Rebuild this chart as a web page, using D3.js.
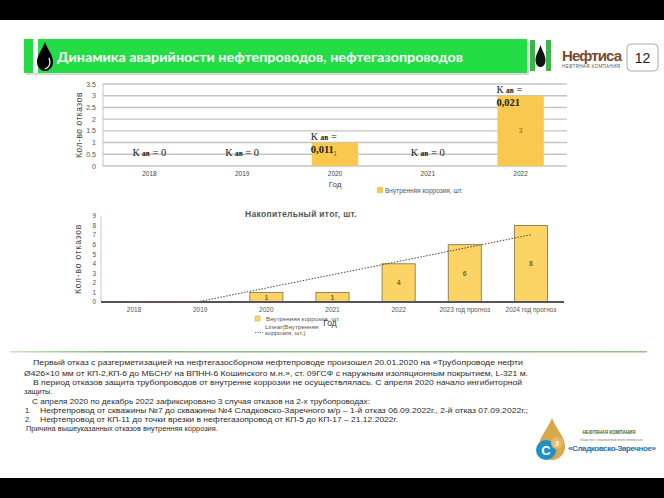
<!DOCTYPE html>
<html><head><meta charset="utf-8">
<script src="https://cdn.jsdelivr.net/npm/d3@7/dist/d3.min.js"></script>
<style>
html,body{margin:0;padding:0;background:#fff;}
svg{display:block;}
</style></head>
<body>
<svg id="c" width="664" height="498"></svg>
<script>
// ---------- DATA ----------
const years1 = ["2018","2019","2020","2021","2022"];
const values1 = [0, 0, 1, 0, 3];
const kavLine1 = ["К ав = 0", "К ав = 0", "К ав =", "К ав = 0", "К ав ="];
const kavLine2 = ["", "", "0,011", "", "0,021"];
const yTicks1 = [0, 0.5, 1, 1.5, 2, 2.5, 3, 3.5];

const years2 = ["2018","2019","2020","2021","2022","2023 год прогноз","2024 год прогноз"];
const values2 = [0, 0, 1, 1, 4, 6, 8];
const yTicks2 = [0,1,2,3,4,5,6,7,8,9];

const titleText = "Динамика аварийности нефтепроводов, нефтегазопроводов";
const pageNumber = "12";
const chart2Title = "Накопительный итог, шт.";
const legendText = "Внутренняя коррозия, шт.";
const yTitle = "Кол-во отказов";
const xTitle = "Год";

const paragraph = [
  {t:"Первый отказ с разгерметизацией на нефтегазосборном нефтепроводе произошел 20.01.2020 на «Трубопроводе нефти", x:33, w:490},
  {t:"Ø426×10 мм от КП-2,КП-6 до МБСНУ на ВПНН-6 Кошинского м.н.», ст. 09ГСФ с наружным изоляционным покрытием,  L-321 м.", x:24, w:504},
  {t:"В период отказов защита трубопроводов от внутренне коррозии не осуществлялась. С апреля 2020 начало ингибиторной", x:33, w:489},
  {t:"защиты.", x:24, w:0},
  {t:"С апреля 2020 по декабрь 2022 зафиксировано 3 случая отказов на 2-х трубопроводах:", x:32, w:338},
  {t:"Нефтепровод от скважины №7 до скважины №4 Сладковско-Заречного м/р – 1-й отказ 06.09.2022г., 2-й отказ 07.09.2022г.;", x:40, w:488, n:"1."},
  {t:"Нефтепровод от КП-11 до точки врезки в нефтегазопровод от КП-5 до КП-17 – 21.12.2022г.", x:40, w:358, n:"2."},
  {t:"Причина вышеуказанных отказов внутренняя коррозия.", x:26, w:0}
];

// ---------- DRAW ----------
const svg = d3.select("#c");
const sans = "'Liberation Sans', Arial, sans-serif";
const serif = "'Liberation Serif', 'Times New Roman', serif";

// black bands
svg.append("rect").attr("x",0).attr("y",0).attr("width",664).attr("height",20).attr("fill","#000");
svg.append("rect").attr("x",0).attr("y",478).attr("width",664).attr("height",20).attr("fill","#000");

// header bar
svg.append("rect").attr("x",26).attr("y",41).attr("width",503).attr("height",34).attr("fill","#d8d8d8");
svg.append("rect").attr("x",24).attr("y",39).attr("width",503).attr("height",34).attr("fill","#22dd44");
svg.append("rect").attr("x",33).attr("y",39).attr("width",5).attr("height",34).attr("fill","#fff");
function drop(g, cx, top, h, w){
  const p = d3.path();
  p.moveTo(cx, top);
  p.bezierCurveTo(cx + w*0.2, top + h*0.3, cx + w/2, top + h*0.45, cx + w/2, top + h*0.68);
  p.bezierCurveTo(cx + w/2, top + h*0.88, cx + w*0.25, top + h, cx, top + h);
  p.bezierCurveTo(cx - w*0.25, top + h, cx - w/2, top + h*0.88, cx - w/2, top + h*0.68);
  p.bezierCurveTo(cx - w/2, top + h*0.45, cx - w*0.2, top + h*0.3, cx, top);
  return g.append("path").attr("d", p.toString());
}
drop(svg, 45, 42, 29, 16).attr("fill","#000");
svg.append("path").attr("d","M49,58 Q52,66 45,69").attr("stroke","#fff").attr("stroke-width",1.2).attr("fill","none");
svg.append("text").attr("x",57).attr("y",62).attr("fill","#fff")
  .attr("font-family","Lato, 'Open Sans', sans-serif").attr("font-weight","bold").attr("font-size",13.5)
  .attr("textLength",406).attr("lengthAdjust","spacingAndGlyphs").text(titleText);

// right logo
svg.append("rect").attr("x",530).attr("y",40).attr("width",5).attr("height",31).attr("fill","#3cb54a");
svg.append("rect").attr("x",546).attr("y",40).attr("width",5).attr("height",31).attr("fill","#3cb54a");
drop(svg, 540.5, 45, 22, 10).attr("fill","#111");
svg.append("text").attr("x",562).attr("y",61).attr("fill","#7b4b2e")
  .attr("font-family",sans).attr("font-weight","bold").attr("font-size",15).attr("textLength",60).text("Нефтиса");
svg.append("text").attr("x",562).attr("y",67.5).attr("fill","#555")
  .attr("font-family",sans).attr("font-size",4.5).attr("textLength",58).text("НЕФТЯНАЯ КОМПАНИЯ");
svg.append("rect").attr("x",627).attr("y",44).attr("width",31).attr("height",27).attr("rx",4)
  .attr("fill","#fff").attr("stroke","#aaa").attr("stroke-width",1);
svg.append("text").attr("x",642.5).attr("y",63).attr("text-anchor","middle").attr("fill","#222")
  .attr("font-family",sans).attr("font-size",14).text(pageNumber);

// ---------- CHART 1 ----------
const x1 = d3.scaleBand().domain(years1).range([103, 567]).paddingInner(0.5).paddingOuter(0.25);
const y1 = d3.scaleLinear().domain([0, 3.5]).range([166, 84]);
const g1 = svg.append("g");
g1.selectAll("line.grid").data(yTicks1).enter().append("line")
  .attr("x1",103).attr("x2",567).attr("y1",d=>y1(d)).attr("y2",d=>y1(d))
  .attr("stroke","#c4c4c4").attr("stroke-width",1.4);
g1.append("line").attr("x1",103).attr("x2",103).attr("y1",84).attr("y2",166).attr("stroke","#c4c4c4").attr("stroke-width",1);
g1.selectAll("text.yt").data(yTicks1).enter().append("text")
  .attr("x",96).attr("y",d=>y1(d)+2.5).attr("text-anchor","end")
  .attr("font-family",sans).attr("font-size",7).attr("fill","#555").text(d=>String(d));
g1.selectAll("rect.bar").data(values1).enter().append("rect")
  .attr("x",(d,i)=>x1(years1[i])).attr("width",x1.bandwidth())
  .attr("y",d=>y1(d)).attr("height",d=>y1(0)-y1(d)).attr("fill","#f8c94e");
g1.selectAll("text.val").data(values1).enter().filter(d=>d>0).append("text")
  .attr("x",(d,i)=>x1(years1[values1.indexOf(d)])+x1.bandwidth()/2)
  .attr("y",d=>(y1(d)+y1(0))/2+2).attr("text-anchor","middle")
  .attr("font-family",sans).attr("font-size",6.5).attr("fill","#7a6630").text(d=>d);
g1.selectAll("text.xt").data(years1).enter().append("text")
  .attr("x",d=>x1(d)+x1.bandwidth()/2).attr("y",176).attr("text-anchor","middle")
  .attr("font-family",sans).attr("font-size",6.5).attr("fill","#444").text(d=>d);
g1.append("text").attr("x",x1("2020")+x1.bandwidth()/2).attr("y",186.5).attr("text-anchor","middle")
  .attr("font-family",sans).attr("font-size",8).attr("fill","#444").text(xTitle);
g1.append("text").attr("transform","translate(82,125) rotate(-90)").attr("text-anchor","middle")
  .attr("font-family",sans).attr("font-size",8.5).attr("fill","#444").attr("letter-spacing",0.5).text(yTitle);
// K annotations
years1.forEach((yr,i)=>{
  const two = kavLine2[i] !== "";
  const cx = x1(yr)+x1.bandwidth()/2;
  if(!two){
    const t = g1.append("text").attr("x",cx).attr("y",y1(0.5)+1.5).attr("text-anchor","middle")
      .attr("font-family",serif).attr("font-size",10.5).attr("fill","#222");
    const parts = kavLine1[i].split(" ");
    t.append("tspan").text(parts[0]+" ");
    t.append("tspan").attr("font-size",7.5).attr("font-weight","bold").text(parts[1]);
    t.append("tspan").text(" "+parts.slice(2).join(" "));
  } else {
    const x0 = x1(yr)-1;
    const top = y1(values1[i]);
    const t = g1.append("text").attr("x",x0).attr("y",top-3)
      .attr("font-family",serif).attr("font-size",10.5).attr("fill","#222");
    const parts = kavLine1[i].split(" ");
    t.append("tspan").text(parts[0]+" ");
    t.append("tspan").attr("font-size",7.5).attr("font-weight","bold").text(parts[1]);
    t.append("tspan").text(" "+parts.slice(2).join(" "));
    g1.append("text").attr("x",x0).attr("y",top+10)
      .attr("font-family",serif).attr("font-size",10.5).attr("font-weight","bold").attr("fill","#222").text(kavLine2[i]);
  }
});
// legend 1
g1.append("rect").attr("x",377).attr("y",187).attr("width",6).attr("height",6).attr("fill","#f8c94e");
g1.append("text").attr("x",385).attr("y",193).attr("font-family",sans).attr("font-size",6.5).attr("fill","#555").text(legendText);

// ---------- CHART 2 ----------
const x2 = d3.scaleBand().domain(years2).range([101, 564]).paddingInner(0.5).paddingOuter(0.25);
const y2 = d3.scaleLinear().domain([0, 9]).range([302, 216]);
const g2 = svg.append("g");
g2.append("text").attr("x",301).attr("y",217).attr("text-anchor","middle")
  .attr("font-family",sans).attr("font-weight","bold").attr("font-size",8.5).attr("fill","#555")
  .attr("letter-spacing",0.3).text(chart2Title);
g2.append("line").attr("x1",101).attr("x2",101).attr("y1",216).attr("y2",302).attr("stroke","#bbb").attr("stroke-width",0.8);
g2.selectAll("text.yt").data(yTicks2).enter().append("text")
  .attr("x",96).attr("y",d=>y2(d)+2.3).attr("text-anchor","end")
  .attr("font-family",sans).attr("font-size",6.5).attr("fill","#555").text(d=>d);
g2.selectAll("rect.bar").data(values2).enter().append("rect")
  .attr("x",(d,i)=>x2(years2[i])).attr("width",x2.bandwidth())
  .attr("y",d=>y2(d)).attr("height",d=>y2(0)-y2(d))
  .attr("fill","#fcd466").attr("stroke","#8b7b4e").attr("stroke-width",0.9)
  .style("display",d=>d>0?null:"none");
g2.selectAll("text.val").data(values2.map((v,i)=>({v,i}))).enter().filter(d=>d.v>0).append("text")
  .attr("x",d=>x2(years2[d.i])+x2.bandwidth()/2)
  .attr("y",d=>(y2(d.v)+y2(0))/2+2.5).attr("text-anchor","middle")
  .attr("font-family",sans).attr("font-weight","bold").attr("font-size",7).attr("fill","#7a6630").text(d=>d.v);
g2.append("line").attr("x1",101).attr("x2",564).attr("y1",302).attr("y2",302).attr("stroke","#555").attr("stroke-width",1.8);
// trend line (least squares)
const n = values2.length;
const xs = values2.map((v,i)=>i+1);
const mx = d3.mean(xs), my = d3.mean(values2);
const slope = d3.sum(xs.map((x,i)=>(x-mx)*(values2[i]-my))) / d3.sum(xs.map(x=>(x-mx)*(x-mx)));
const icpt = my - slope*mx;
const cx2 = i => x2(years2[i]) + x2.bandwidth()/2;
const xStart = 1 + Math.max(0, -icpt/slope - 1);
const trendPts = [xStart, n].map(xv=>[cx2(0) + (xv-1)*x2.step(), y2(Math.max(0, icpt + slope*xv))]);
g2.append("line").attr("x1",trendPts[0][0]).attr("y1",trendPts[0][1]).attr("x2",trendPts[1][0]).attr("y2",trendPts[1][1])
  .attr("stroke","#444").attr("stroke-width",1).attr("stroke-dasharray","1.5,1.5");
g2.append("line").attr("x1",cx2(0)).attr("y1",y2(values2[0])-0.5).attr("x2",cx2(1)).attr("y2",y2(values2[1])-0.5)
  .attr("stroke","#a04848").attr("stroke-width",1).attr("stroke-dasharray","1.5,1.5");
g2.selectAll("text.xt").data(years2).enter().append("text")
  .attr("x",d=>x2(d)+x2.bandwidth()/2).attr("y",312).attr("text-anchor","middle")
  .attr("font-family",sans).attr("font-size",6.5).attr("fill","#555").text(d=>d);
g2.append("text").attr("transform","translate(81,259) rotate(-90)").attr("text-anchor","middle")
  .attr("font-family",sans).attr("font-size",8.5).attr("fill","#444").attr("letter-spacing",0.8).text(yTitle);
// legend 2
g2.append("rect").attr("x",255).attr("y",316).attr("width",5).attr("height",5).attr("fill","#fcd466").attr("stroke","#c9a83c").attr("stroke-width",0.5);
g2.append("text").attr("x",266).attr("y",321).attr("font-family",sans).attr("font-size",6.2).attr("fill","#555").text(legendText);
g2.append("text").attr("x",265).attr("y",328.5).attr("font-family",sans).attr("font-size",6.2).attr("fill","#555").text("Linear(Внутренняя");
g2.append("line").attr("x1",255).attr("x2",263).attr("y1",332.5).attr("y2",332.5).attr("stroke","#444").attr("stroke-width",0.8).attr("stroke-dasharray","1.2,1.2");
g2.append("text").attr("x",265).attr("y",334.5).attr("font-family",sans).attr("font-size",6.2).attr("fill","#555").text("коррозия, шт.)");
g2.append("text").attr("x",330).attr("y",326).attr("text-anchor","middle")
  .attr("font-family",sans).attr("font-size",8.5).attr("fill","#333").text(xTitle);

// separator line
const grad = svg.append("defs").append("linearGradient").attr("id","sep");
grad.append("stop").attr("offset","0").attr("stop-color","#c8e6c0");
grad.append("stop").attr("offset","0.15").attr("stop-color","#7fbf73");
grad.append("stop").attr("offset","1").attr("stop-color","#8cc67f");
svg.append("rect").attr("x",10).attr("y",351).attr("width",637).attr("height",1.5).attr("fill","url(#sep)");

// paragraph
const lineY = [365, 375.5, 384.5, 393.5, 403.5, 413, 422, 431];
paragraph.forEach((p,i)=>{
  const t = svg.append("text").attr("x",p.x).attr("y",lineY[i])
    .attr("font-family",sans).attr("font-size",7.4).attr("fill","#2a2a2a").text(p.t);
  if(p.w>0) t.attr("textLength",p.w).attr("lengthAdjust","spacingAndGlyphs");
  if(p.n) svg.append("text").attr("x",25).attr("y",lineY[i]).attr("font-family",sans).attr("font-size",7.4).attr("fill","#2a2a2a").text(p.n);
});

// bottom-right logo
const lg = svg.append("g");
drop(lg, 552, 418, 42, 26).attr("fill","#d9a84e");
lg.append("circle").attr("cx",546).attr("cy",450).attr("r",10).attr("fill","#1f8fc7");
lg.append("circle").attr("cx",557).attr("cy",443).attr("r",6).attr("fill","#e8b765");
lg.append("text").attr("x",546).attr("y",455).attr("text-anchor","middle").attr("font-family",sans)
  .attr("font-weight","bold").attr("font-size",13).attr("fill","#fff").text("С");
lg.append("text").attr("x",557).attr("y",446).attr("text-anchor","middle").attr("font-family",sans)
  .attr("font-weight","bold").attr("font-size",8).attr("fill","#fff").text("3");
lg.append("text").attr("x",609).attr("y",434).attr("text-anchor","middle").attr("font-family",sans)
  .attr("font-weight","bold").attr("font-size",4.5).attr("fill","#3d6b2a").text("НЕФТЯНАЯ КОМПАНИЯ");
lg.append("text").attr("x",611).attr("y",441).attr("text-anchor","middle").attr("font-family",sans)
  .attr("font-size",3).attr("fill","#777").text("Общество с ограниченной ответственностью");
lg.append("text").attr("x",612).attr("y",451).attr("text-anchor","middle").attr("font-family",sans)
  .attr("font-weight","bold").attr("font-size",8).attr("fill","#1f6fa8").attr("textLength",88).text("«Сладковско-Заречное»");
</script>
</body></html>
